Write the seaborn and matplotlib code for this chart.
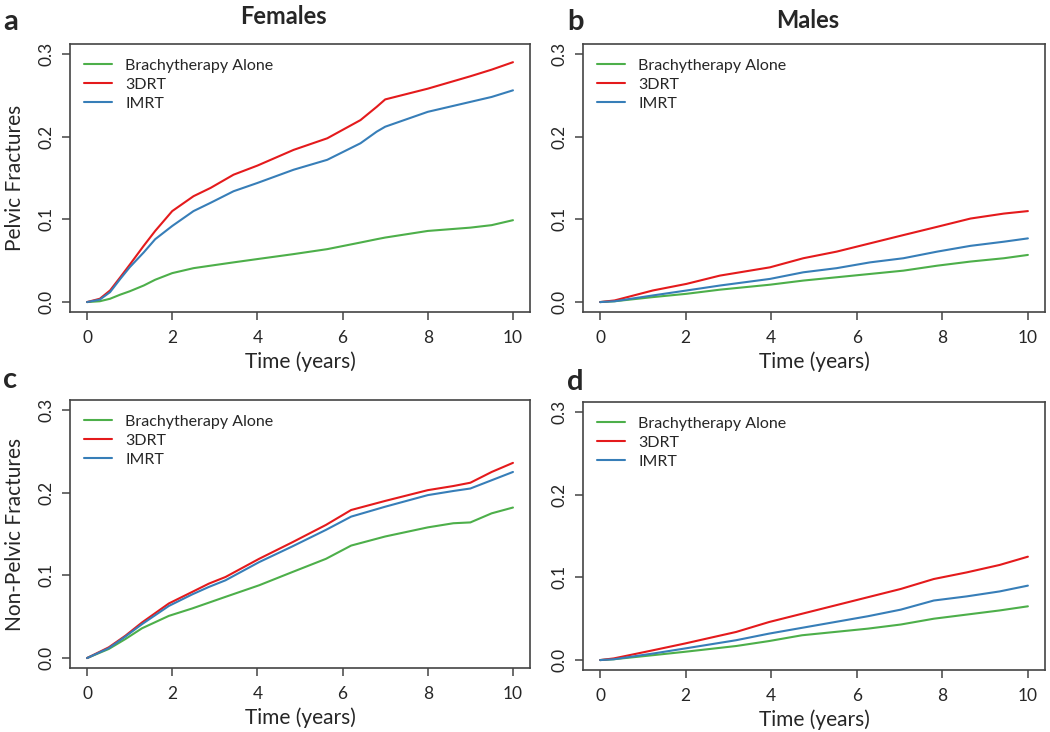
import pandas as pd
import matplotlib.pyplot as plt
import seaborn as sns

sns.set_style("ticks")
plt.rcParams['font.family'] = ['Lato', 'DejaVu Sans']

groups = ['Brachytherapy Alone', '3DRT', 'IMRT']
colors = {'Brachytherapy Alone': '#4DAF4A', '3DRT': '#E41A1C', 'IMRT': '#377EB8'}

# panel a: females, pelvic fractures
fa_t = [0, 0.3, 0.54, 0.78, 1.0, 1.33, 1.6, 2.0, 2.5, 2.9, 3.44, 4.0, 4.85, 5.64, 6.42, 6.8, 7.0, 8.0, 9.0, 9.5, 10.0]
fa_brachy = [0, 0.001, 0.004, 0.009, 0.013, 0.020, 0.027, 0.035, 0.041, 0.044, 0.048, 0.052, 0.058, 0.064, 0.072, 0.076, 0.078, 0.086, 0.090, 0.093, 0.099]
fa_3drt = [0, 0.004, 0.014, 0.030, 0.045, 0.068, 0.086, 0.110, 0.128, 0.138, 0.154, 0.165, 0.184, 0.198, 0.220, 0.236, 0.245, 0.258, 0.273, 0.281, 0.290]
fa_imrt = [0, 0.003, 0.012, 0.028, 0.042, 0.060, 0.076, 0.092, 0.110, 0.120, 0.134, 0.144, 0.160, 0.172, 0.192, 0.206, 0.212, 0.230, 0.242, 0.248, 0.256]

# panel b: males, pelvic fractures
mb_t = [0, 0.34, 1.23, 2.02, 2.8, 3.97, 4.75, 5.53, 6.31, 7.09, 7.88, 8.66, 9.44, 10.0]
mb_brachy = [0, 0.001, 0.006, 0.010, 0.015, 0.021, 0.026, 0.030, 0.034, 0.038, 0.044, 0.049, 0.053, 0.057]
mb_3drt = [0, 0.002, 0.014, 0.022, 0.032, 0.042, 0.053, 0.061, 0.071, 0.081, 0.091, 0.101, 0.107, 0.110]
mb_imrt = [0, 0.001, 0.008, 0.014, 0.020, 0.028, 0.036, 0.041, 0.048, 0.053, 0.061, 0.068, 0.073, 0.077]

# panel c: females, non-pelvic fractures
fc_t = [0, 0.51, 0.9, 1.29, 1.92, 2.47, 2.86, 3.25, 4.04, 4.82, 5.61, 6.2, 7.0, 8.0, 8.6, 9.0, 9.5, 10.0]
fc_brachy = [0, 0.011, 0.023, 0.036, 0.051, 0.060, 0.067, 0.074, 0.088, 0.104, 0.120, 0.136, 0.147, 0.158, 0.163, 0.164, 0.175, 0.182]
fc_3drt = [0, 0.013, 0.027, 0.043, 0.066, 0.080, 0.090, 0.098, 0.120, 0.140, 0.161, 0.179, 0.190, 0.203, 0.208, 0.212, 0.225, 0.236]
fc_imrt = [0, 0.012, 0.026, 0.041, 0.063, 0.077, 0.086, 0.094, 0.116, 0.135, 0.155, 0.171, 0.183, 0.197, 0.202, 0.205, 0.215, 0.225]

# panel d: males, non-pelvic fractures
md_t = [0, 0.32, 1.25, 1.98, 3.18, 3.95, 4.72, 5.49, 6.26, 7.03, 7.8, 8.57, 9.34, 10.0]
md_brachy = [0, 0.001, 0.006, 0.010, 0.017, 0.023, 0.030, 0.034, 0.038, 0.043, 0.050, 0.055, 0.060, 0.065]
md_3drt = [0, 0.002, 0.012, 0.020, 0.034, 0.046, 0.056, 0.066, 0.076, 0.086, 0.098, 0.106, 0.115, 0.125]
md_imrt = [0, 0.001, 0.008, 0.014, 0.024, 0.032, 0.039, 0.046, 0.053, 0.061, 0.072, 0.077, 0.083, 0.090]


def long_df(t, brachy, drt, imrt):
    frames = []
    for name, vals in zip(groups, [brachy, drt, imrt]):
        frames.append(pd.DataFrame({'time': t, 'cum': vals, 'group': name}))
    return pd.concat(frames, ignore_index=True)


panels = [
    (long_df(fa_t, fa_brachy, fa_3drt, fa_imrt), [70, 44, 460, 268], 'a', 'Pelvic Fractures'),
    (long_df(mb_t, mb_brachy, mb_3drt, mb_imrt), [583, 44, 462, 268], 'b', None),
    (long_df(fc_t, fc_brachy, fc_3drt, fc_imrt), [70, 400, 460, 268], 'c', 'Non-Pelvic Fractures'),
    (long_df(md_t, md_brachy, md_3drt, md_imrt), [583, 402, 462, 268], 'd', None),
]

W, H = 1050, 732
fig = plt.figure(figsize=(W / 100, H / 100), dpi=100)

for df, (x0, y0, w, h), letter, ylab in panels:
    ax = fig.add_axes([x0 / W, 1 - (y0 + h) / H, w / W, h / H])
    sns.lineplot(data=df, x='time', y='cum', hue='group', palette=colors,
                 hue_order=groups, estimator=None, linewidth=1.5, ax=ax)
    ax.set_xlim(-0.4, 10.4)
    ax.set_ylim(-0.012, 0.312)
    ax.set_xticks([0, 2, 4, 6, 8, 10])
    ax.set_yticks([0.0, 0.1, 0.2, 0.3])
    ax.set_yticklabels(['0.0', '0.1', '0.2', '0.3'], rotation=90, va='center')
    ax.tick_params(labelsize=12.5, length=6, width=1.1, color='#444444', pad=5)
    ax.tick_params(axis='x', pad=7)
    for s in ax.spines.values():
        s.set_visible(True)
        s.set_color('#444444')
        s.set_linewidth(1.2)
    ax.set_xlabel('Time (years)', fontsize=15, labelpad=4)
    ax.set_ylabel(ylab if ylab else '', fontsize=15, labelpad=10)
    ax.legend(loc='upper left', bbox_to_anchor=(0.0, 1.0), frameon=False,
              fontsize=11.5, handlelength=1.75, handletextpad=0.8,
              labelspacing=0.3, borderaxespad=0.5)
    fig.text((x0 - 67) / W if x0 < 100 else (x0 - 16) / W, 1 - (y0 - 35) / H if y0 < 100 else 1 - (y0 - 33) / H,
             letter, fontsize=21, fontweight='bold', va='top', ha='left')

fig.text(283 / W, 1 - 5 / H, 'Females', fontsize=17, fontweight='bold', ha='center', va='top')
fig.text(808 / W, 1 - 9 / H, 'Males', fontsize=17, fontweight='bold', ha='center', va='top')

plt.savefig('out.png', dpi=100)
plt.close()
